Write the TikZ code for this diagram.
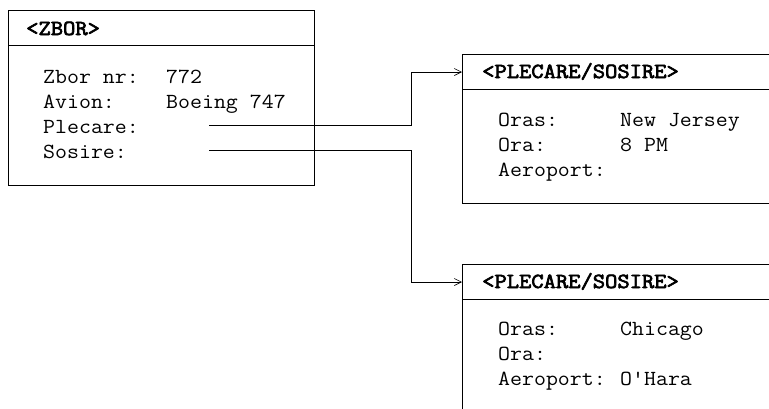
\documentclass[tikz,border=0pt]{standalone}
\usepackage{fontspec}
\newfontfamily\hdrfont[FakeBold=3]{Latin Modern Mono}
\usetikzlibrary{arrows.meta}
\newcommand\mtxt[1]{\scalebox{1.08}[1]{#1}}
\newcommand\mhdr[1]{\scalebox{1.11}[1]{#1}}
\tikzset{
  box/.style={draw, line width=1.1pt, rectangle, anchor=north west, inner sep=0pt},
  sep/.style={line width=0.6pt},
  conn/.style={line width=0.6pt, -{Straight Barb[length=7pt,width=7pt,line width=0.6pt]}},
  txt/.style={anchor=base west, inner sep=0pt, font=\ttfamily\fontsize{21.5}{24}\selectfont},
  hdr/.style={txt, font=\hdrfont\fontsize{21.5}{24}\selectfont},
}
\begin{document}
\begin{tikzpicture}[x=1pt,y=-1pt]
\useasboundingbox (0,0) rectangle (769,408);
\clip (0,0) rectangle (769,408);
% box 1
\node[box, minimum width=306pt, minimum height=175pt] (b1) at (8,10) {};
\draw[sep] (8,45) -- (314,45);
\node[hdr] (h1) at (26,35) {\mhdr{<ZBOR>}};
\node[txt] (l11) at (43,83) {\mtxt{Zbor nr:}};
\node[txt] (v11) at (166,83) {\mtxt{772}};
\node[txt] (l12) at (43,108) {\mtxt{Avion:}};
\node[txt] (v12) at (166,108) {\mtxt{Boeing 747}};
\node[txt] (l13) at (43,133) {\mtxt{Plecare:}};
\node[txt] (l14) at (43,158) {\mtxt{Sosire:}};
% box 2
\node[box, minimum width=330pt, minimum height=149pt] (b2) at (462,54) {};
\draw[sep] (462,89) -- (790,89);
\node[hdr] (h2) at (482,78) {\mhdr{<PLECARE/SOSIRE>}};
\node[txt] (l21) at (498,126) {\mtxt{Oras:}};
\node[txt] (v21) at (620,126) {\mtxt{New Jersey}};
\node[txt] (l22) at (498,151) {\mtxt{Ora:}};
\node[txt] (v22) at (620,151) {\mtxt{8 PM}};
\node[txt] (l23) at (498,176) {\mtxt{Aeroport:}};
% box 3
\node[box, minimum width=330pt, minimum height=170pt] (b3) at (462,264) {};
\draw[sep] (462,299) -- (790,299);
\node[hdr] (h3) at (482,288) {\mhdr{<PLECARE/SOSIRE>}};
\node[txt] (l31) at (498,335) {\mtxt{Oras:}};
\node[txt] (v31) at (620,335) {\mtxt{Chicago}};
\node[txt] (l32) at (498,360) {\mtxt{Ora:}};
\node[txt] (l33) at (498,385) {\mtxt{Aeroport:}};
\node[txt] (v33) at (620,385) {\mtxt{O'Hara}};
% connectors
\coordinate (p0) at (209,125);
\coordinate (p1) at (411,125);
\coordinate (p2) at (b2.west |- 0,72);
\coordinate (s0) at (209,150);
\coordinate (s1) at (411,150);
\coordinate (s2) at (b3.west |- 0,282);
\draw[conn] (p0) -- (p1) |- (p2);
\draw[conn] (s0) -- (s1) |- (s2);
\end{tikzpicture}
\end{document}
